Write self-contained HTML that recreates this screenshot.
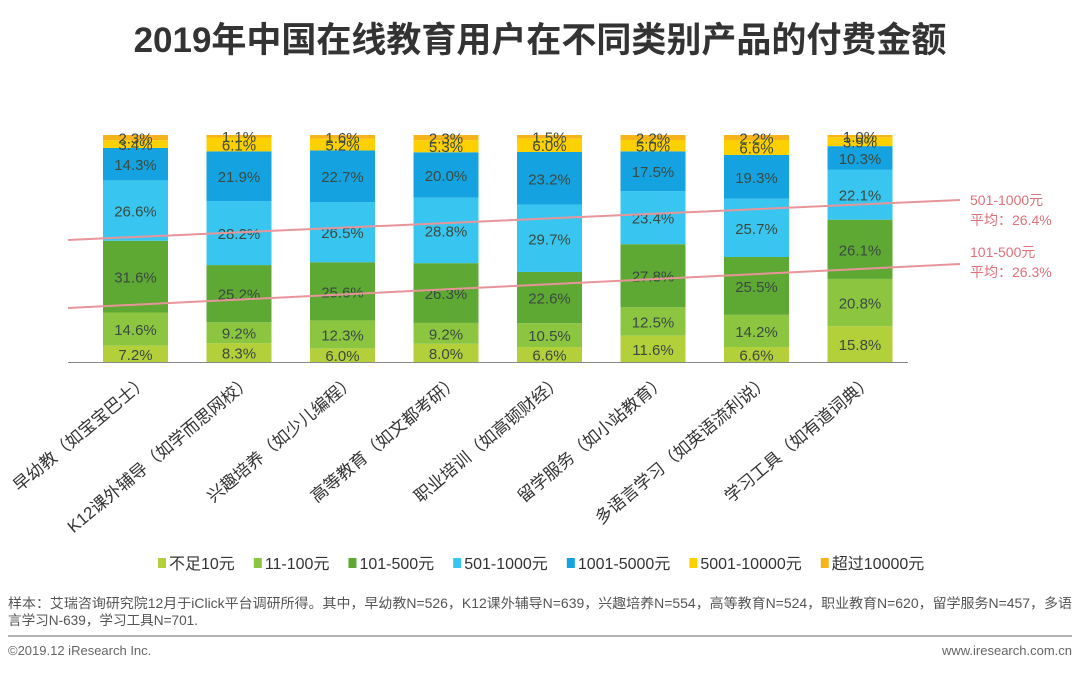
<!DOCTYPE html>
<html><head><meta charset="utf-8"><style>
body{margin:0;width:1080px;height:671px;background:#fff;overflow:hidden;font-family:"Liberation Sans","Noto Sans CJK SC",sans-serif}
</style></head><body>
<svg width="1080" height="671" xmlns="http://www.w3.org/2000/svg">
<text x="540" y="52" text-anchor="middle" font-size="35" font-weight="bold" fill="#333" font-family="Liberation Sans,Noto Sans CJK SC,sans-serif">2019年中国在线教育用户在不同类别产品的付费金额</text>
<g id="bars"></g>
<line x1="68" y1="240" x2="960" y2="200" stroke="#e8959a" stroke-width="2"/>
<line x1="68" y1="308" x2="960" y2="264" stroke="#e8959a" stroke-width="2"/>
<g font-size="14" fill="#e0707a" font-family="Liberation Sans,Noto Sans CJK SC,sans-serif">
<text x="970" y="205">501-1000元</text>
<text x="970" y="225">平均：26.4%</text>
<text x="970" y="257">101-500元</text>
<text x="970" y="277">平均：26.3%</text>
</g>
<line x1="68" y1="362.5" x2="908" y2="362.5" stroke="#888" stroke-width="1"/>
<g id="cats"></g>
<g id="legend"></g>
<text x="8" y="608" font-size="13.6" fill="#555" font-family="Liberation Sans,Noto Sans CJK SC,sans-serif" textLength="1064" lengthAdjust="spacingAndGlyphs">样本：艾瑞咨询研究院12月于iClick平台调研所得。其中，早幼教N=526，K12课外辅导N=639，兴趣培养N=554，高等教育N=524，职业教育N=620，留学服务N=457，多语</text>
<text x="8" y="625" font-size="13.6" fill="#555" font-family="Liberation Sans,Noto Sans CJK SC,sans-serif">言学习N-639，学习工具N=701.</text>
<line x1="8" y1="636" x2="1072" y2="636" stroke="#999" stroke-width="1.5"/>
<text x="8" y="655" font-size="13" fill="#666">©2019.12 iResearch Inc.</text>
<text x="1072" y="655" font-size="13" fill="#666" text-anchor="end">www.iresearch.com.cn</text>
</svg>
<script>
const categories=["早幼教（如宝宝巴士）","K12课外辅导（如学而思网校）","兴趣培养（如少儿编程）","高等教育（如文都考研）","职业培训（如高顿财经）","留学服务（如小站教育）","多语言学习（如英语流利说）","学习工具（如有道词典）"];
const seriesNames=["不足10元","11-100元","101-500元","501-1000元","1001-5000元","5001-10000元","超过10000元"];
const s1=[7.2,8.3,6.0,8.0,6.6,11.6,6.6,15.8];
const s2=[14.6,9.2,12.3,9.2,10.5,12.5,14.2,20.8];
const s3=[31.6,25.2,25.6,26.3,22.6,27.8,25.5,26.1];
const s4=[26.6,28.2,26.5,28.8,29.7,23.4,25.7,22.1];
const s5=[14.3,21.9,22.7,20.0,23.2,17.5,19.3,10.3];
const s6=[3.4,6.1,5.2,5.3,6.0,5.0,6.6,3.9];
const s7=[2.3,1.1,1.6,2.3,1.5,2.2,2.2,1.0];
const series=[s1,s2,s3,s4,s5,s6,s7];
const colors=["#b3cf3a","#8cc641","#5ea834","#38c6f0","#14a3e0","#fdd000","#f7b41a"];
const NS="http://www.w3.org/2000/svg";
const top0=135,bot=362,x0=103,step=103.5,bw=65;
function yScale(p){return bot-(bot-top0)*p/100;}
function xBand(i){return x0+i*step;}
const gb=document.getElementById('bars');
categories.forEach((c,i)=>{
  let tot=0;series.forEach(s=>tot+=s[i]);
  let cum=0;
  series.forEach((s,k)=>{
    const y1=yScale(cum/tot*100),y2=yScale((cum+s[i])/tot*100);cum+=s[i];
    const r=document.createElementNS(NS,'rect');
    r.setAttribute('x',xBand(i));r.setAttribute('y',y2);r.setAttribute('width',bw);r.setAttribute('height',y1-y2);r.setAttribute('fill',colors[k]);
    
    
    gb.appendChild(r);
    const t=document.createElementNS(NS,'text');
    t.setAttribute('x',xBand(i)+bw/2);t.setAttribute('y',(y1+y2)/2+6);t.setAttribute('text-anchor','middle');t.setAttribute('font-size','15');t.setAttribute('fill','#3a4a40');
    t.textContent=s[i].toFixed(1)+'%';
    
    
    gb.appendChild(t);
  });
  const ct=document.createElementNS(NS,'text');
  const cx=xBand(i)+bw/2+14,cy=383;
  ct.setAttribute('x',cx);ct.setAttribute('y',cy);ct.setAttribute('text-anchor','end');ct.setAttribute('font-size','17');ct.setAttribute('fill','#333');
  ct.setAttribute('transform','rotate(-40 '+cx+' '+cy+')');
  ct.textContent=c;
  
  
  document.getElementById('cats').appendChild(ct);
});
const gl=document.getElementById('legend');
let lx=158;
seriesNames.forEach((n,k)=>{
  const r=document.createElementNS(NS,'rect');
  r.setAttribute('x',lx);r.setAttribute('y',558);r.setAttribute('width',8);r.setAttribute('height',10);r.setAttribute('fill',colors[k]);
  
  
  gl.appendChild(r);
  const t=document.createElementNS(NS,'text');
  t.setAttribute('x',lx+11);t.setAttribute('y',569);t.setAttribute('font-size','16');t.setAttribute('fill','#333');
  t.textContent=n;
  
  
  gl.appendChild(t);
  lx+=t.getComputedTextLength()+30;
});
</script>
</body></html>
